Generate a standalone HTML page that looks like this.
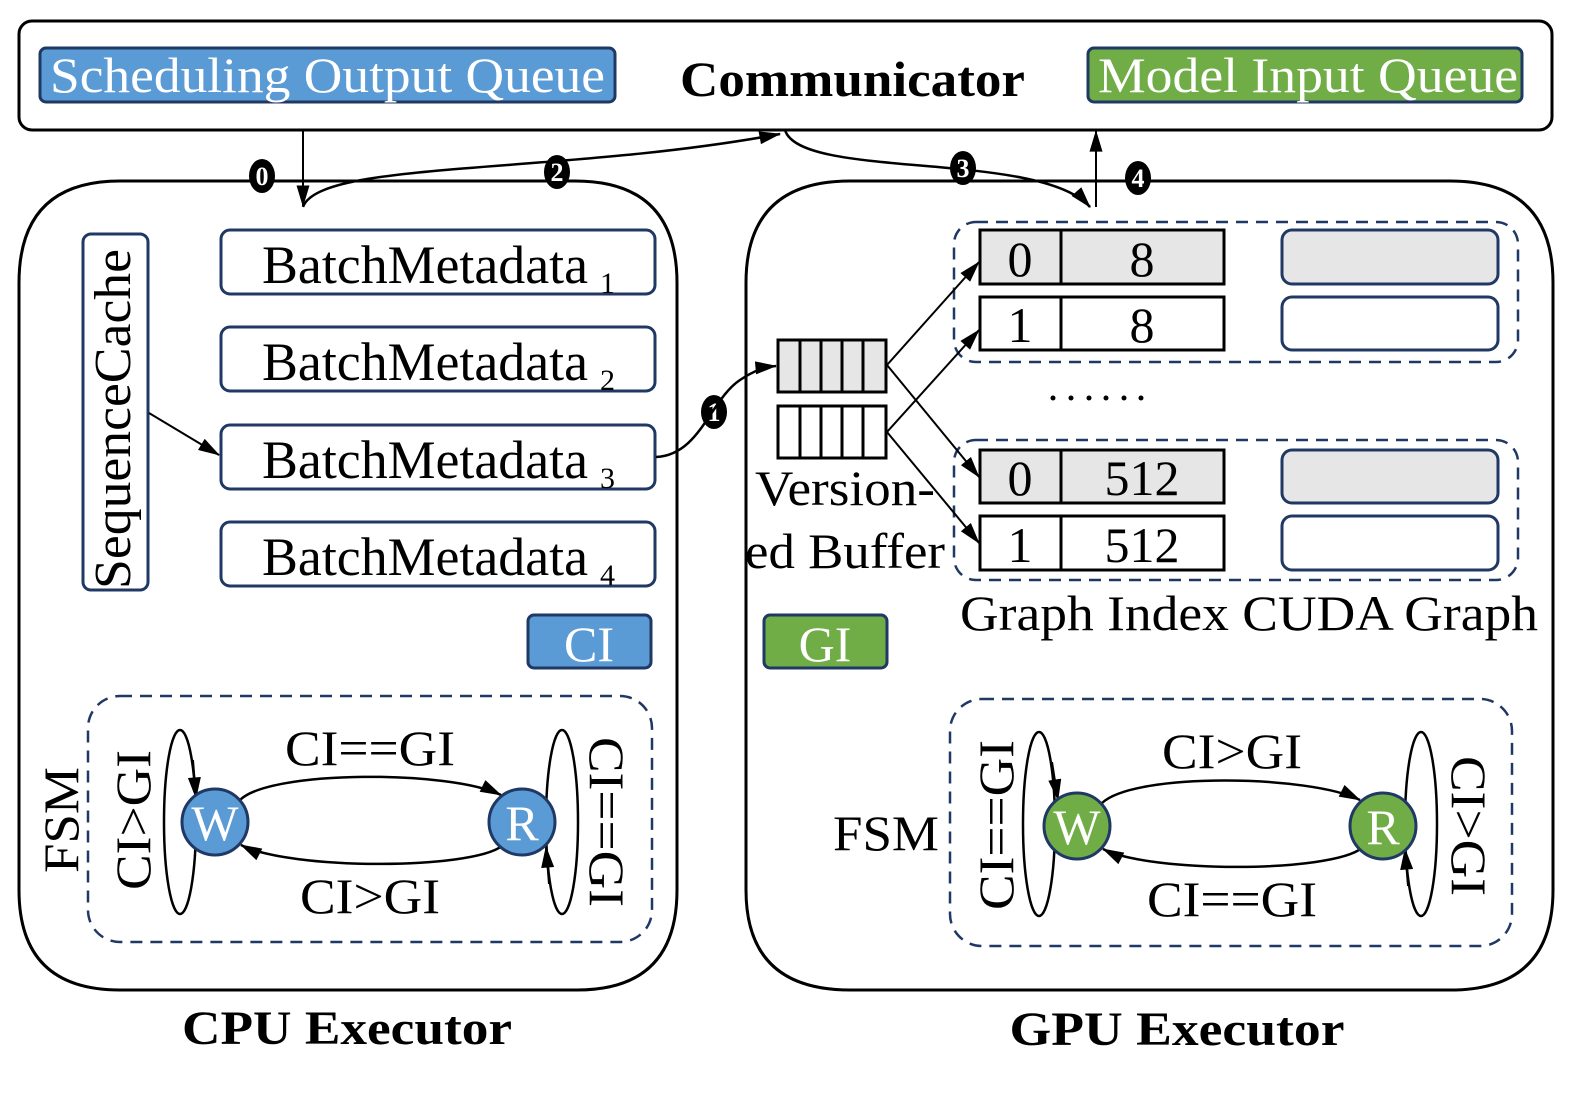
<!DOCTYPE html>
<html><head><meta charset="utf-8"><style>
html,body{margin:0;padding:0;background:#fff;overflow:hidden;}
svg{display:block;}
text{font-family:"Liberation Serif",serif;}
</style></head><body>
<svg width="1578" height="1120" viewBox="0 0 1578 1120" xmlns="http://www.w3.org/2000/svg">
<defs>
<marker id="ahb" viewBox="0 0 20 12" refX="19" refY="6" markerWidth="22" markerHeight="13" markerUnits="userSpaceOnUse" orient="auto"><path d="M0,0 L20,6 L0,12 z" fill="#000"/></marker>
</defs>
<rect width="1578" height="1120" fill="#fff"/>

<!-- Communicator -->
<rect x="19" y="21" width="1533" height="109" rx="13" fill="#fff" stroke="#000" stroke-width="3"/>
<rect x="40" y="48" width="575" height="54" rx="6" fill="#5b9bd5" stroke="#1f3864" stroke-width="3"/>
<text x="50" y="92" font-size="50" fill="#fff" textLength="555" lengthAdjust="spacingAndGlyphs">Scheduling Output Queue</text>
<text x="680" y="96" font-size="50" font-weight="bold" textLength="345" lengthAdjust="spacingAndGlyphs">Communicator</text>
<rect x="1088" y="48" width="434" height="54" rx="6" fill="#70ad47" stroke="#1f3864" stroke-width="3"/>
<text x="1098" y="92" font-size="50" fill="#fff" textLength="420" lengthAdjust="spacingAndGlyphs">Model Input Queue</text>

<!-- Executors -->
<path d="M120,181 H575 Q677,181 677,283 V890 Q677,990 577,990 H120 Q19,990 19,890 V283 Q19,181 120,181 Z" fill="none" stroke="#000" stroke-width="3"/>
<path d="M850,181 H1450 Q1553,181 1553,283 V890 Q1553,990 1450,990 H850 Q746,990 746,890 V283 Q746,181 850,181 Z" fill="none" stroke="#000" stroke-width="3"/>

<!-- top arrows -->
<line x1="303" y1="130" x2="303" y2="206" stroke="#000" stroke-width="2" marker-end="url(#ahb)"/>
<path d="M303,207 C320,160 560,175 780,134" fill="none" stroke="#000" stroke-width="2.5" marker-end="url(#ahb)"/>
<path d="M785,130 C800,180 1040,150 1090,207" fill="none" stroke="#000" stroke-width="2.5" marker-end="url(#ahb)"/>
<line x1="1096" y1="207" x2="1096" y2="131" stroke="#000" stroke-width="2" marker-end="url(#ahb)"/>
<g font-size="26" fill="#fff" text-anchor="middle" font-weight="bold">
<ellipse cx="262" cy="176" rx="13" ry="17" fill="#000"/><text x="262" y="185">0</text>
<ellipse cx="557" cy="172" rx="13" ry="17" fill="#000"/><text x="557" y="181">2</text>
<ellipse cx="963" cy="168" rx="13" ry="17" fill="#000"/><text x="963" y="177">3</text>
<ellipse cx="1138" cy="178" rx="13" ry="17" fill="#000"/><text x="1138" y="187">4</text>
<ellipse cx="714" cy="412" rx="13" ry="17" fill="#000"/><text x="714" y="421">1</text>
</g>

<!-- CPU side -->
<rect x="83" y="234" width="65" height="356" rx="8" fill="#fff" stroke="#1f3864" stroke-width="3"/>
<text transform="translate(130,419) rotate(-90)" font-size="52" text-anchor="middle" textLength="340" lengthAdjust="spacingAndGlyphs">SequenceCache</text>
<g stroke="#1f3864" stroke-width="3" fill="#fff">
<rect x="221" y="230" width="434" height="64" rx="9"/>
<rect x="221" y="327" width="434" height="64" rx="9"/>
<rect x="221" y="425" width="434" height="64" rx="9"/>
<rect x="221" y="522" width="434" height="64" rx="9"/>
</g>
<g font-size="54">
<text x="262" y="283" textLength="326" lengthAdjust="spacingAndGlyphs">BatchMetadata</text>
<text x="262" y="380" textLength="326" lengthAdjust="spacingAndGlyphs">BatchMetadata</text>
<text x="262" y="478" textLength="326" lengthAdjust="spacingAndGlyphs">BatchMetadata</text>
<text x="262" y="575" textLength="326" lengthAdjust="spacingAndGlyphs">BatchMetadata</text>
</g>
<g font-size="30">
<text x="600" y="293">1</text><text x="600" y="390">2</text><text x="600" y="488">3</text><text x="600" y="585">4</text>
</g>
<line x1="149" y1="413" x2="219" y2="455" stroke="#000" stroke-width="2" marker-end="url(#ahb)"/>
<path d="M656,457 C700,455 710,400 740,380 C755,370 765,367 776,366" fill="none" stroke="#000" stroke-width="2.5" marker-end="url(#ahb)"/>

<rect x="528" y="615" width="123" height="53" rx="6" fill="#5b9bd5" stroke="#1f3864" stroke-width="3"/>
<text x="589" y="661" font-size="50" fill="#fff" text-anchor="middle">CI</text>

<!-- CPU FSM -->
<rect x="88" y="696" width="564" height="246" rx="32" fill="none" stroke="#1f3864" stroke-width="2.5" stroke-dasharray="12,8"/>
<text transform="translate(78,820) rotate(-90)" font-size="50" text-anchor="middle" textLength="106" lengthAdjust="spacingAndGlyphs">FSM</text>
<text transform="translate(150,820) rotate(-90)" font-size="50" text-anchor="middle" textLength="140" lengthAdjust="spacingAndGlyphs">CI&gt;GI</text>
<ellipse cx="180" cy="822" rx="16" ry="92" fill="none" stroke="#000" stroke-width="2.5"/>
<line x1="193" y1="760" x2="196" y2="798" stroke="#000" stroke-width="2" marker-end="url(#ahb)"/>
<ellipse cx="562" cy="822" rx="16" ry="92" fill="none" stroke="#000" stroke-width="2.5"/>
<line x1="549" y1="884" x2="546" y2="847" stroke="#000" stroke-width="2" marker-end="url(#ahb)"/>
<path d="M240,800 C270,770 450,770 501,795" fill="none" stroke="#000" stroke-width="2.5" marker-end="url(#ahb)"/>
<path d="M502,846 C470,870 290,870 241,845" fill="none" stroke="#000" stroke-width="2.5" marker-end="url(#ahb)"/>
<circle cx="215" cy="822" r="33" fill="#5b9bd5" stroke="#1f3864" stroke-width="3"/>
<text x="215" y="840" font-size="50" fill="#fff" text-anchor="middle">W</text>
<circle cx="522" cy="822" r="33" fill="#5b9bd5" stroke="#1f3864" stroke-width="3"/>
<text x="522" y="840" font-size="50" fill="#fff" text-anchor="middle">R</text>
<text x="370" y="765" font-size="50" text-anchor="middle" textLength="170" lengthAdjust="spacingAndGlyphs">CI==GI</text>
<text x="370" y="913" font-size="50" text-anchor="middle" textLength="140" lengthAdjust="spacingAndGlyphs">CI&gt;GI</text>
<text transform="translate(590,822) rotate(90)" font-size="50" text-anchor="middle" textLength="170" lengthAdjust="spacingAndGlyphs">CI==GI</text>
<text x="347" y="1044" font-size="48" font-weight="bold" text-anchor="middle" textLength="330" lengthAdjust="spacingAndGlyphs">CPU Executor</text>

<!-- GPU side -->
<g stroke="#000" stroke-width="3">
<rect x="778" y="340" width="108" height="52" fill="#e6e6e6"/>
<rect x="778" y="406" width="108" height="52" fill="#fff"/>
<line x1="800" y1="340" x2="800" y2="392"/><line x1="821" y1="340" x2="821" y2="392"/><line x1="842" y1="340" x2="842" y2="392"/><line x1="863" y1="340" x2="863" y2="392"/>
<line x1="800" y1="406" x2="800" y2="458"/><line x1="821" y1="406" x2="821" y2="458"/><line x1="842" y1="406" x2="842" y2="458"/><line x1="863" y1="406" x2="863" y2="458"/>
</g>
<text x="755" y="505" font-size="50" textLength="180" lengthAdjust="spacingAndGlyphs">Version-</text>
<text x="745" y="568" font-size="50" textLength="200" lengthAdjust="spacingAndGlyphs">ed Buffer</text>

<rect x="954" y="222" width="564" height="140" rx="22" fill="none" stroke="#1f3864" stroke-width="2.5" stroke-dasharray="12,8"/>
<rect x="954" y="440" width="564" height="140" rx="22" fill="none" stroke="#1f3864" stroke-width="2.5" stroke-dasharray="12,8"/>
<g stroke="#000" stroke-width="3">
<rect x="980" y="230" width="244" height="54" fill="#e6e6e6"/>
<rect x="980" y="297" width="244" height="53" fill="#fff"/>
<rect x="980" y="450" width="244" height="53" fill="#e6e6e6"/>
<rect x="980" y="516" width="244" height="54" fill="#fff"/>
<line x1="1061" y1="230" x2="1061" y2="284"/><line x1="1061" y1="297" x2="1061" y2="350"/>
<line x1="1061" y1="450" x2="1061" y2="503"/><line x1="1061" y1="516" x2="1061" y2="570"/>
</g>
<g stroke="#1f3864" stroke-width="3">
<rect x="1282" y="230" width="216" height="54" rx="10" fill="#e6e6e6"/>
<rect x="1282" y="297" width="216" height="53" rx="10" fill="#fff"/>
<rect x="1282" y="450" width="216" height="53" rx="10" fill="#e6e6e6"/>
<rect x="1282" y="516" width="216" height="54" rx="10" fill="#fff"/>
</g>
<g font-size="50" text-anchor="middle">
<text x="1020" y="276">0</text><text x="1142" y="276">8</text>
<text x="1020" y="342">1</text><text x="1142" y="342">8</text>
<text x="1020" y="495">0</text><text x="1142" y="495">512</text>
<text x="1020" y="562">1</text><text x="1142" y="562">512</text>
</g>
<g fill="#000"><circle cx="1053" cy="398" r="2.5"/><circle cx="1071" cy="398" r="2.5"/><circle cx="1089" cy="398" r="2.5"/><circle cx="1106" cy="398" r="2.5"/><circle cx="1124" cy="398" r="2.5"/><circle cx="1141" cy="398" r="2.5"/></g>
<g stroke="#000" stroke-width="2">
<line x1="887" y1="365" x2="979" y2="262" marker-end="url(#ahb)"/>
<line x1="887" y1="432" x2="979" y2="330" marker-end="url(#ahb)"/>
<line x1="887" y1="365" x2="979" y2="477" marker-end="url(#ahb)"/>
<line x1="887" y1="432" x2="979" y2="543" marker-end="url(#ahb)"/>
</g>
<text x="960" y="630" font-size="50" textLength="578" lengthAdjust="spacingAndGlyphs">Graph Index CUDA Graph</text>

<rect x="764" y="615" width="123" height="53" rx="6" fill="#70ad47" stroke="#1f3864" stroke-width="3"/>
<text x="825" y="661" font-size="50" fill="#fff" text-anchor="middle">GI</text>

<!-- GPU FSM -->
<rect x="950" y="699" width="562" height="247" rx="32" fill="none" stroke="#1f3864" stroke-width="2.5" stroke-dasharray="12,8"/>
<text x="886" y="850" font-size="50" text-anchor="middle" textLength="106" lengthAdjust="spacingAndGlyphs">FSM</text>
<text transform="translate(1013,825) rotate(-90)" font-size="50" text-anchor="middle" textLength="170" lengthAdjust="spacingAndGlyphs">CI==GI</text>
<ellipse cx="1039" cy="824" rx="16" ry="92" fill="none" stroke="#000" stroke-width="2.5"/>
<line x1="1052" y1="762" x2="1058" y2="800" stroke="#000" stroke-width="2" marker-end="url(#ahb)"/>
<ellipse cx="1421" cy="824" rx="16" ry="92" fill="none" stroke="#000" stroke-width="2.5"/>
<line x1="1408" y1="886" x2="1405" y2="849" stroke="#000" stroke-width="2" marker-end="url(#ahb)"/>
<path d="M1102,803 C1135,772 1310,775 1360,800" fill="none" stroke="#000" stroke-width="2.5" marker-end="url(#ahb)"/>
<path d="M1362,848 C1330,873 1150,873 1103,849" fill="none" stroke="#000" stroke-width="2.5" marker-end="url(#ahb)"/>
<circle cx="1077" cy="826" r="33" fill="#70ad47" stroke="#1f3864" stroke-width="3"/>
<text x="1077" y="844" font-size="50" fill="#fff" text-anchor="middle">W</text>
<circle cx="1383" cy="826" r="33" fill="#70ad47" stroke="#1f3864" stroke-width="3"/>
<text x="1383" y="844" font-size="50" fill="#fff" text-anchor="middle">R</text>
<text x="1232" y="768" font-size="50" text-anchor="middle" textLength="140" lengthAdjust="spacingAndGlyphs">CI&gt;GI</text>
<text x="1232" y="916" font-size="50" text-anchor="middle" textLength="170" lengthAdjust="spacingAndGlyphs">CI==GI</text>
<text transform="translate(1452,826) rotate(90)" font-size="50" text-anchor="middle" textLength="140" lengthAdjust="spacingAndGlyphs">CI&gt;GI</text>
<text x="1177" y="1045" font-size="48" font-weight="bold" text-anchor="middle" textLength="335" lengthAdjust="spacingAndGlyphs">GPU Executor</text>
</svg>
</body></html>
